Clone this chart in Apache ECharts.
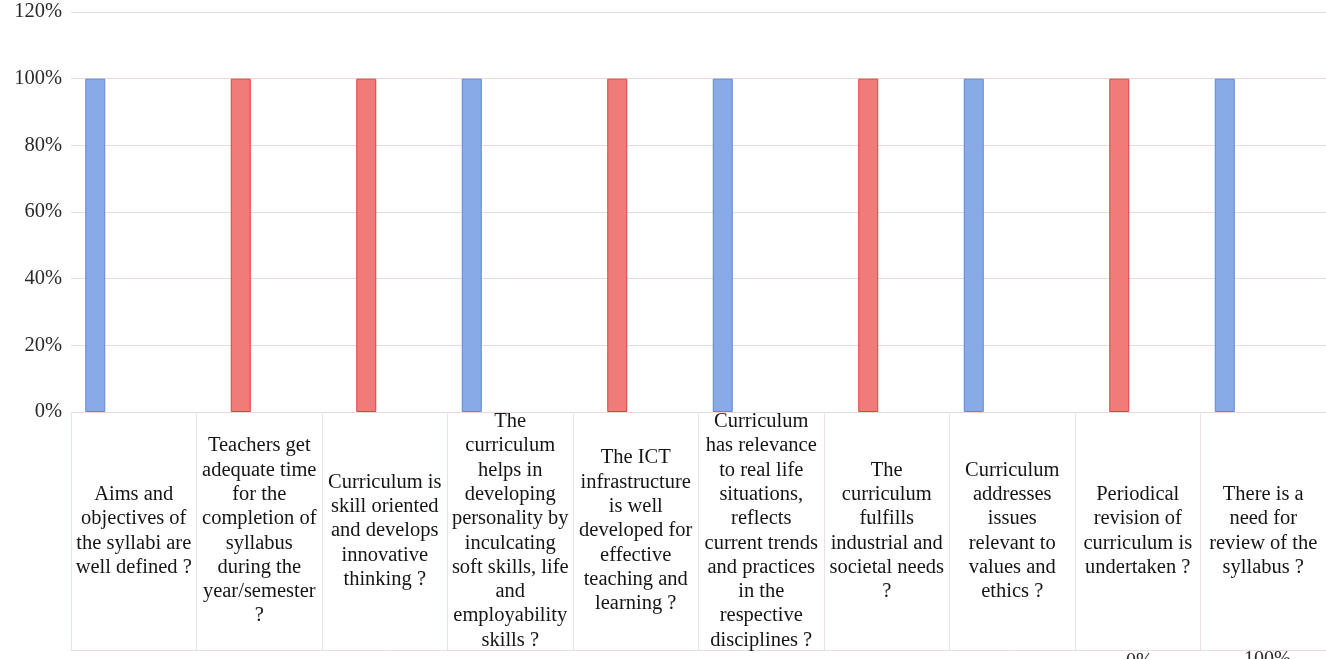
<!DOCTYPE html>
<html>
<head>
<meta charset="utf-8">
<script src="https://cdn.jsdelivr.net/npm/echarts@6/dist/echarts.min.js"></script>
<style>
html,body{margin:0;padding:0;background:#ffffff;}
#chart{width:1326px;height:659px;}
</style>
</head>
<body>
<div id="chart"></div>
<script>
// ---- data ----
const categories = [
  "Aims and\nobjectives of\nthe syllabi are\nwell defined ?",
  "Teachers get\nadequate time\nfor the\ncompletion of\nsyllabus\nduring the\nyear/semester\n?",
  "Curriculum is\nskill oriented\nand develops\ninnovative\nthinking ?",
  "The\ncurriculum\nhelps in\ndeveloping\npersonality by\ninculcating\nsoft skills, life\nand\nemployability\nskills ?",
  "The ICT\ninfrastructure\nis well\ndeveloped for\neffective\nteaching and\nlearning ?",
  "Curriculum\nhas relevance\nto real life\nsituations,\nreflects\ncurrent trends\nand practices\nin the\nrespective\ndisciplines ?",
  "The\ncurriculum\nfulfills\nindustrial and\nsocietal needs\n?",
  "Curriculum\naddresses\nissues\nrelevant to\nvalues and\nethics ?",
  "Periodical\nrevision of\ncurriculum is\nundertaken ?",
  "There is a\nneed for\nreview of the\nsyllabus ?"
];
const blueValues = [100, null, null, 100, null, 100, null, 100, null, 100];
const redValues  = [null, 100, 100, null, 100, null, 100, null, 100, null];
const yTicks = { min: 0, max: 120, interval: 20 };
const bottomFragments = ["0%", "100%"];

// ---- chart ----
const serif = "'Liberation Serif', 'DejaVu Serif', serif";
const chart = echarts.init(document.getElementById('chart'), null, { renderer: 'canvas' });
const gridTop = 12, gridBottom = 247;
const option = {
  backgroundColor: '#ffffff',
  animation: false,
  grid: [
    { left: 71, right: 0, top: gridTop, bottom: gridBottom },
    { left: 42.5, right: 28.5, top: gridTop, bottom: gridBottom },
    { left: 71, right: 0, top: 412, bottom: 9 }
  ],
  xAxis: [
    {
      gridIndex: 0, type: 'category', data: categories,
      axisLine: { show: false }, axisTick: { show: false },
      axisLabel: {
        interval: 0, margin: 119, verticalAlign: 'middle', align: 'center',
        fontFamily: serif, fontSize: 20.5, lineHeight: 24.3, color: '#151515'
      }
    },
    { gridIndex: 1, type: 'category', data: categories, show: false },
    {
      gridIndex: 2, type: 'category', data: categories, position: 'bottom',
      axisLine: { show: true, lineStyle: { color: '#e8dede', width: 1 } },
      axisTick: { show: false }, axisLabel: { show: false },
      splitLine: { show: true, interval: 0, lineStyle: { color: '#ebe2e2', width: 1 } }
    }
  ],
  yAxis: [
    {
      gridIndex: 0, type: 'value', min: yTicks.min, max: yTicks.max, interval: yTicks.interval,
      axisLine: { show: false }, axisTick: { show: false },
      axisLabel: { formatter: '{value}%', fontFamily: serif, fontSize: 20.5, color: '#2a2a2a', margin: 9 },
      splitLine: { show: true, lineStyle: { color: '#ecdada', width: 1 } }
    },
    { gridIndex: 1, type: 'value', min: yTicks.min, max: yTicks.max, interval: yTicks.interval, show: false },
    { gridIndex: 2, type: 'value', min: 0, max: 1, show: false }
  ],
  series: [
    {
      type: 'bar', xAxisIndex: 1, yAxisIndex: 1, data: blueValues,
      barWidth: 20, barGap: '0%',
      itemStyle: { color: '#88aae6', borderColor: '#5e87d8', borderWidth: 1 }
    },
    {
      type: 'bar', xAxisIndex: 1, yAxisIndex: 1, data: redValues,
      barWidth: 20, barGap: '0%',
      itemStyle: { color: '#f07c7a', borderColor: '#e0403c', borderWidth: 1 }
    }
  ],
  graphic: [
    { type: 'text', left: 1126, top: 652, style: { text: bottomFragments[0], font: "20px " + serif, fill: '#2a2a2a' } },
    { type: 'text', left: 1244, top: 650, style: { text: bottomFragments[1], font: "20px " + serif, fill: '#2a2a2a' } }
  ]
};
chart.setOption(option);
</script>
</body>
</html>
